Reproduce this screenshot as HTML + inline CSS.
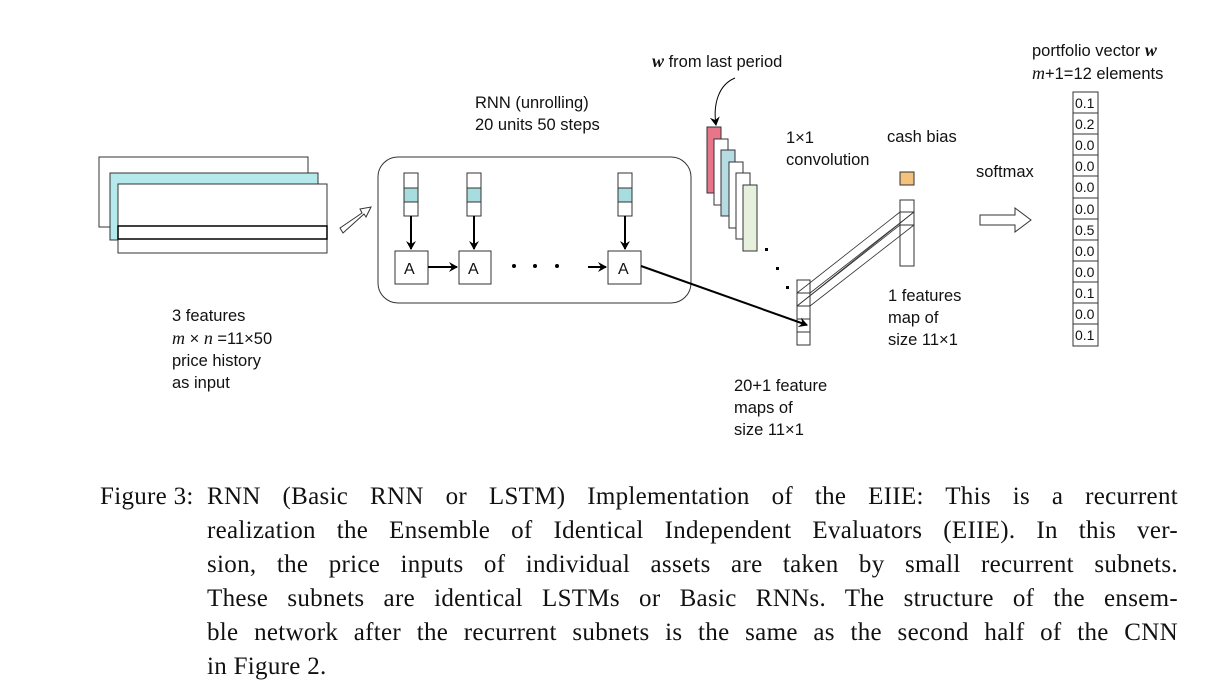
<!DOCTYPE html>
<html><head><meta charset="utf-8"><style>
body{margin:0;background:#fff;}
.wrap{position:relative;width:1211px;height:698px;overflow:hidden;}
.t{position:absolute;font-family:"Liberation Sans",sans-serif;font-size:16.5px;color:#111;white-space:nowrap;line-height:22px;}
.cap{position:absolute;font-family:"Liberation Serif",serif;font-size:25px;letter-spacing:0.3px;color:#111;line-height:34px;}
.ln{text-align:justify;text-align-last:justify;width:971px;white-space:nowrap;}
i.m{font-family:"Liberation Serif",serif;font-style:italic;font-size:18px;}
</style></head><body><div class="wrap">
<svg width="1211" height="698" style="position:absolute;left:0;top:0">
<defs><marker id="ah" markerWidth="10" markerHeight="10" refX="8" refY="5" orient="auto" markerUnits="userSpaceOnUse"><path d="M0,0 L9,5 L0,10 L3,5 z" fill="#000"/></marker></defs>
<g stroke="#333" stroke-width="1" fill="#fff">
<rect x="99" y="157" width="209" height="70"/>
<rect x="110" y="173" width="208" height="67" fill="#b6e9ec"/>
<rect x="118" y="184" width="209" height="69"/>
<rect x="118" y="226" width="209" height="13" stroke="#000" stroke-width="1.5"/>
<path d="M340,228 L362,213 L360,209 L371,207 L366,217 L364,214 L343,233 z"/>
<rect x="378" y="157" width="313" height="146" rx="20"/>
<rect x="404" y="173" width="14" height="43"/><rect x="404" y="188" width="14" height="14" fill="#a8dde0"/>
<rect x="467" y="173" width="14" height="43"/><rect x="467" y="188" width="14" height="14" fill="#a8dde0"/>
<rect x="618" y="173" width="14" height="43"/><rect x="618" y="188" width="14" height="14" fill="#a8dde0"/>
<rect x="395" y="251" width="33" height="33"/>
<rect x="459" y="251" width="32" height="33"/>
<rect x="608" y="251" width="33" height="33"/>
<rect x="707" y="127" width="14" height="66" fill="#e8768a"/>
<rect x="714" y="139" width="14" height="66"/>
<rect x="721" y="150" width="14" height="66" fill="#b7dbe3"/>
<rect x="729" y="162" width="14" height="66"/>
<rect x="736" y="173" width="14" height="66"/>
<rect x="743" y="185" width="14" height="66" fill="#e6f0dc"/>
<rect x="797" y="280" width="13" height="65"/>
<rect x="797" y="293" width="13" height="13"/>
<rect x="797" y="319" width="13" height="13"/>
<rect x="900" y="200" width="14" height="66"/>
<rect x="900" y="212" width="14" height="13"/>
<rect x="900" y="172" width="14" height="13" fill="#f2c27e"/>
<path d="M980,215 L1015,215 L1015,208 L1031,220 L1015,232 L1015,225 L980,225 z"/>
</g>
<g stroke="#333" stroke-width="0.8" fill="none">
<line x1="797" y1="293" x2="900" y2="212"/><line x1="810" y1="293" x2="914" y2="212"/>
<line x1="797" y1="306" x2="900" y2="225"/><line x1="810" y1="306" x2="914" y2="225"/>
<line x1="797" y1="306" x2="914" y2="212"/>
</g>
<g stroke="#000" stroke-width="2" fill="none">
<line x1="411" y1="216" x2="411" y2="249" marker-end="url(#ah)"/>
<line x1="474" y1="216" x2="474" y2="249" marker-end="url(#ah)"/>
<line x1="625" y1="216" x2="625" y2="249" marker-end="url(#ah)"/>
<line x1="428" y1="267" x2="457" y2="267" marker-end="url(#ah)"/>
<line x1="588" y1="267" x2="606" y2="267" marker-end="url(#ah)"/>
<line x1="641" y1="266" x2="807" y2="325" marker-end="url(#ah)"/>
</g>
<path d="M735,78 C718,85 713,105 716,125" stroke="#000" stroke-width="1" fill="none" marker-end="url(#ah)"/>
<g fill="#000"><circle cx="514" cy="266" r="2"/><circle cx="535" cy="266" r="2"/><circle cx="557" cy="266" r="2"/>
<rect x="765" y="248" width="3" height="3"/><rect x="776" y="267" width="3" height="3"/><rect x="786" y="286" width="3" height="3"/></g>
<g stroke="#333" fill="#fff">
<rect x="1073" y="92" width="25" height="254"/>
</g>
<g stroke="#333">
<line x1="1073" y1="113" x2="1098" y2="113"/><line x1="1073" y1="134" x2="1098" y2="134"/><line x1="1073" y1="155" x2="1098" y2="155"/><line x1="1073" y1="176" x2="1098" y2="176"/><line x1="1073" y1="198" x2="1098" y2="198"/><line x1="1073" y1="219" x2="1098" y2="219"/><line x1="1073" y1="240" x2="1098" y2="240"/><line x1="1073" y1="261" x2="1098" y2="261"/><line x1="1073" y1="282" x2="1098" y2="282"/><line x1="1073" y1="303" x2="1098" y2="303"/><line x1="1073" y1="324" x2="1098" y2="324"/>
</g>
<g font-family="Liberation Sans,sans-serif" font-size="14" fill="#111">
<text x="1075" y="108">0.1</text><text x="1075" y="129">0.2</text><text x="1075" y="150">0.0</text><text x="1075" y="171">0.0</text><text x="1075" y="192">0.0</text><text x="1075" y="214">0.0</text><text x="1075" y="235">0.5</text><text x="1075" y="256">0.0</text><text x="1075" y="277">0.0</text><text x="1075" y="298">0.1</text><text x="1075" y="319">0.0</text><text x="1075" y="340">0.1</text>
</g>
<g font-family="Liberation Sans,sans-serif" font-size="16" fill="#111">
<text x="404" y="274">A</text><text x="468" y="274">A</text><text x="618" y="274">A</text>
</g>
</svg>
<div class="t" style="left:652px;top:50px"><i class="m" style="font-weight:bold">w</i> from last period</div>
<div class="t" style="left:475px;top:92px">RNN (unrolling)<br>20 units 50 steps</div>
<div class="t" style="left:786px;top:127px">1×1<br>convolution</div>
<div class="t" style="left:887px;top:126px">cash bias</div>
<div class="t" style="left:976px;top:161px">softmax</div>
<div class="t" style="left:1032px;top:39px">portfolio vector <i class="m" style="font-weight:bold">w</i><br><i class="m">m</i>+1=12 elements</div>
<div class="t" style="left:172px;top:305px">3 features<br><i class="m">m</i> × <i class="m">n</i> =11×50<br>price history<br>as input</div>
<div class="t" style="left:888px;top:285px">1 features<br>map of<br>size 11×1</div>
<div class="t" style="left:734px;top:375px">20+1 feature<br>maps of<br>size 11×1</div>
<div class="cap" style="left:100px;top:480px">Figure 3:</div>
<div class="cap" style="left:207px;top:480px">
<div class="ln">RNN (Basic RNN or LSTM) Implementation of the EIIE: This is a recurrent</div>
<div class="ln">realization the Ensemble of Identical Independent Evaluators (EIIE). In this ver-</div>
<div class="ln">sion, the price inputs of individual assets are taken by small recurrent subnets.</div>
<div class="ln">These subnets are identical LSTMs or Basic RNNs. The structure of the ensem-</div>
<div class="ln">ble network after the recurrent subnets is the same as the second half of the CNN</div>
<div>in Figure 2.</div>
</div>
</div></body></html>
